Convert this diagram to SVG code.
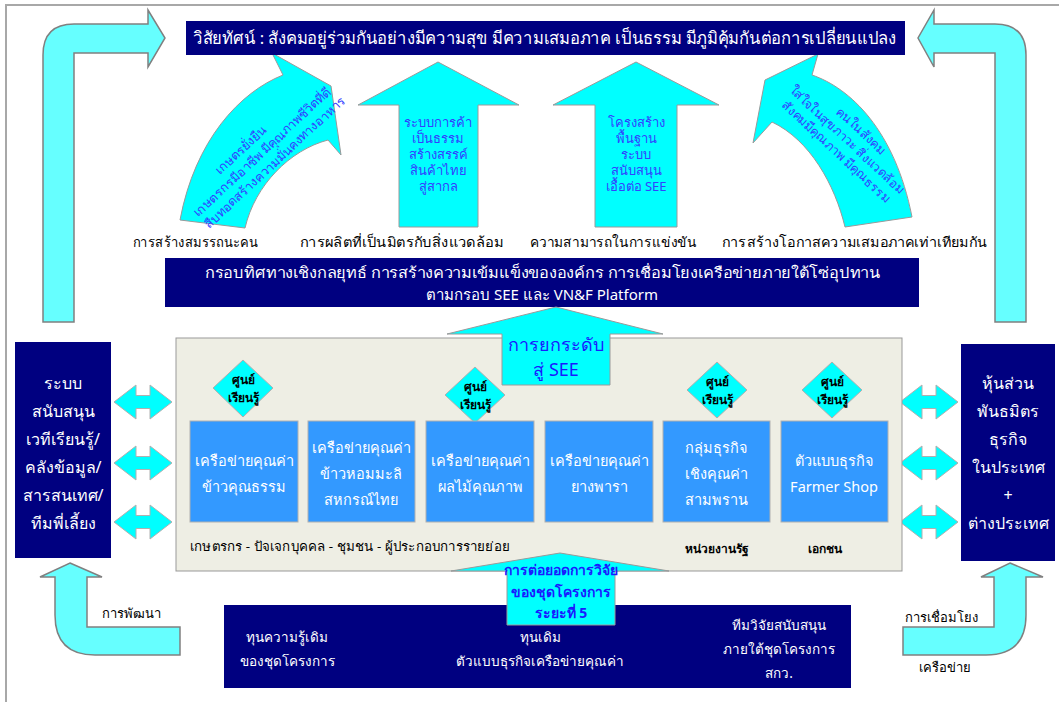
<svg xmlns="http://www.w3.org/2000/svg" xmlns:xlink="http://www.w3.org/1999/xlink" width="1059" height="702" viewBox="0 0 1059 702">
<defs>
<style>
text{font-family:"Noto Sans","DejaVu Sans",sans-serif;}
.nv{fill:#000080;}
.cy{fill:#00FFFF;stroke:#9a9a9a;stroke-width:1;}
.lc{fill:#66FFFF;stroke:#808080;stroke-width:1.5;}
.bx{fill:#3399FF;stroke:#b0b0b0;stroke-width:1;}
.dm{fill:#00FFFF;stroke:#b0b0b0;stroke-width:1;}
.w{fill:#ffffff;}
.k{fill:#000000;}
.bl{fill:#3340ff;}
.c{text-anchor:middle;}
</style>
<path id="dbl" d="M0,17 L22,0 L22,10.5 L36,10.5 L36,0 L58,17 L36,34 L36,23.5 L22,23.5 L22,34 Z" fill="#00FFFF" stroke="#b0b0b0" stroke-width="1"/>
</defs>
<rect width="1059" height="702" fill="#ffffff"/>
<path d="M6,702 L6,5 L1059,5" fill="none" stroke="#a8a8a8" stroke-width="2"/>

<g id="connectors">
<path class="lc" d="M43,322 L43,55 Q43,24 74,24 L148,24 L148,10 L165,38 L148,67 L148,53 L74,53 L74,322 Z"/>
<path class="lc" d="M1026,322 L1026,55 Q1026,24 995,24 L934,24 L934,10 L918,38 L934,67 L934,53 L995,53 L995,322 Z"/>
<path class="cy" d="M331,86 L272,53 L283,75 C240,92 195,140 180,220 L245,228 C255,185 290,150 328,140 L341,155 Z"/>
<path class="cy" d="M765,80 L818,54 L812,75 C850,88 895,130 912,217 L845,227 C835,185 810,140 772,122 L753,143 Z"/>
<path class="cy" d="M438,62 L519,105 L478,105 L478,227 L399,227 L399,105 L358,105 Z"/>
<path class="cy" d="M636,62 L719,105 L677,105 L677,227 L595,227 L595,105 L553,105 Z"/>
<use xlink:href="#dbl" x="114" y="385"/>
<use xlink:href="#dbl" x="114" y="446"/>
<use xlink:href="#dbl" x="114" y="505"/>
<use xlink:href="#dbl" x="900" y="385"/>
<use xlink:href="#dbl" x="900" y="446"/>
<use xlink:href="#dbl" x="900" y="505"/>
<path class="lc" d="M70,563 L102,577 L87,577 L87,627 L180,627 L180,655 L95,655 Q55,655 55,615 L55,577 L40,577 Z"/>
<path class="lc" d="M1010,563 L1043,577 L1026,577 L1026,615 Q1026,655 986,655 L903,655 L903,627 L994,627 L994,577 L981,577 Z"/>
</g>

<g id="vision">
<rect class="nv" x="186" y="21" width="719" height="34"/>
<text class="w" x="193" y="44" font-size="17" textLength="703" lengthAdjust="spacingAndGlyphs">วิสัยทัศน์ : สังคมอยู่ร่วมกันอย่างมีความสุข มีความเสมอภาค เป็นธรรม มีภูมิคุ้มกันต่อการเปลี่ยนแปลง</text>
</g>

<g id="arrow-text-1">
<g transform="translate(263,153) rotate(-43)" font-size="12.5">
<text class="c bl" x="-14" y="-13">เกษตรยั่งยืน</text>
<text class="c bl" x="0" y="3">เกษตรกรมีอาชีพ มีคุณภาพชีวิตที่ดี</text>
<text class="c bl" x="2" y="19">สืบทอดสร้างความมั่นคงทางอาหาร</text>
</g>
</g>
<g id="arrow-text-2" font-size="13">
<text class="c bl" x="438" y="127">ระบบการค้า</text>
<text class="c bl" x="438" y="143">เป็นธรรม</text>
<text class="c bl" x="438" y="159">สร้างสรรค์</text>
<text class="c bl" x="438" y="175">สินค้าไทย</text>
<text class="c bl" x="438" y="191">สู่สากล</text>
</g>
<g id="arrow-text-3" font-size="13">
<text class="c bl" x="636" y="127">โครงสร้าง</text>
<text class="c bl" x="636" y="143">พื้นฐาน</text>
<text class="c bl" x="636" y="159">ระบบ</text>
<text class="c bl" x="636" y="175">สนับสนุน</text>
<text class="c bl" x="636" y="191">เอื้อต่อ SEE</text>
</g>
<g id="arrow-text-4">
<g transform="translate(847,140) rotate(43)" font-size="12.5">
<text class="c bl" x="4" y="-12">คนในสังคม</text>
<text class="c bl" x="0" y="4">ใส่ใจในสุขภาวะ สิ่งแวดล้อม</text>
<text class="c bl" x="0" y="20">สังคมมีคุณภาพ มีคุณธรรม</text>
</g>
</g>

<g id="goals" font-size="14">
<text class="k" x="133" y="247" textLength="125" lengthAdjust="spacingAndGlyphs">การสร้างสมรรถนะคน</text>
<text class="k" x="300" y="247" textLength="203" lengthAdjust="spacingAndGlyphs">การผลิตที่เป็นมิตรกับสิ่งแวดล้อม</text>
<text class="k" x="530" y="247" textLength="167" lengthAdjust="spacingAndGlyphs">ความสามารถในการแข่งขัน</text>
<text class="k" x="722" y="247" textLength="265" lengthAdjust="spacingAndGlyphs">การสร้างโอกาสความเสมอภาคเท่าเทียมกัน</text>
</g>

<g id="strategy">
<rect class="nv" x="165" y="258" width="754" height="49"/>
<text class="w" x="205" y="278" font-size="15" textLength="675" lengthAdjust="spacingAndGlyphs">กรอบทิศทางเชิงกลยุทธ์ การสร้างความเข้มแข็งขององค์กร การเชื่อมโยงเครือข่ายภายใต้โซ่อุปทาน</text>
<text class="w c" x="542" y="300" font-size="15">ตามกรอบ SEE และ VN&amp;F Platform</text>
</g>

<g id="panel">
<rect x="176" y="338" width="726" height="233" fill="#EEEEE4" stroke="#999999" stroke-width="1"/>
<text class="k" x="190" y="551" font-size="13" textLength="320" lengthAdjust="spacingAndGlyphs">เกษตรกร - ปัจเจกบุคคล - ชุมชน - ผู้ประกอบการรายย่อย</text>
<text class="k" x="685" y="553" font-size="12" font-weight="bold">หน่วยงานรัฐ</text>
<text class="k" x="808" y="553" font-size="12" font-weight="bold">เอกชน</text>
</g>

<g id="raise-see">
<path class="cy" d="M556,307 L663,334 L610,334 L610,385 L502,385 L502,334 L447,334 Z"/>
<text class="c" x="556" y="351" font-size="18" fill="#1a1aff">การยกระดับ</text>
<text class="c" x="556" y="376" font-size="18" fill="#1a1aff">สู่ SEE</text>
</g>

<g id="lc1"><path class="dm" d="M243,360 L273,388 L243,417 L213,388 Z"/><text class="k c" x="243" y="384" font-size="12" font-weight="bold">ศูนย์</text><text class="k c" x="243" y="402" font-size="12" font-weight="bold">เรียนรู้</text></g>
<g id="lc2"><path class="dm" d="M475,367 L505,395 L475,423 L445,395 Z"/><text class="k c" x="475" y="391" font-size="12" font-weight="bold">ศูนย์</text><text class="k c" x="475" y="409" font-size="12" font-weight="bold">เรียนรู้</text></g>
<g id="lc3"><path class="dm" d="M717,362 L747,390 L717,418 L687,390 Z"/><text class="k c" x="717" y="386" font-size="12" font-weight="bold">ศูนย์</text><text class="k c" x="717" y="404" font-size="12" font-weight="bold">เรียนรู้</text></g>
<g id="lc4"><path class="dm" d="M832,362 L862,390 L832,418 L802,390 Z"/><text class="k c" x="832" y="386" font-size="12" font-weight="bold">ศูนย์</text><text class="k c" x="832" y="404" font-size="12" font-weight="bold">เรียนรู้</text></g>

<g id="b1"><rect class="bx" x="190" y="421" width="108" height="101"/><text class="w c" x="244" y="466" font-size="14.5">เครือข่ายคุณค่า</text><text class="w c" x="244" y="492" font-size="14.5">ข้าวคุณธรรม</text></g>
<g id="b2"><rect class="bx" x="308" y="421" width="107" height="101"/><text class="w c" x="361" y="453" font-size="14.5">เครือข่ายคุณค่า</text><text class="w c" x="361" y="479" font-size="14.5">ข้าวหอมมะลิ</text><text class="w c" x="361" y="505" font-size="14.5">สหกรณ์ไทย</text></g>
<g id="b3"><rect class="bx" x="426" y="421" width="108" height="101"/><text class="w c" x="480" y="466" font-size="14.5">เครือข่ายคุณค่า</text><text class="w c" x="480" y="492" font-size="14.5">ผลไม้คุณภาพ</text></g>
<g id="b4"><rect class="bx" x="545" y="421" width="108" height="101"/><text class="w c" x="599" y="466" font-size="14.5">เครือข่ายคุณค่า</text><text class="w c" x="599" y="492" font-size="14.5">ยางพารา</text></g>
<g id="b5"><rect class="bx" x="663" y="421" width="107" height="101"/><text class="w c" x="716" y="453" font-size="14.5">กลุ่มธุรกิจ</text><text class="w c" x="716" y="479" font-size="14.5">เชิงคุณค่า</text><text class="w c" x="716" y="505" font-size="14.5">สามพราน</text></g>
<g id="b6"><rect class="bx" x="781" y="421" width="107" height="101"/><text class="w c" x="834" y="466" font-size="14.5">ตัวแบบธุรกิจ</text><text class="w c" x="834" y="492" font-size="14.5">Farmer Shop</text></g>

<g id="support" font-size="16">
<rect class="nv" x="15" y="342" width="96" height="216"/>
<text class="w c" x="63" y="389">ระบบ</text>
<text class="w c" x="63" y="417">สนับสนุน</text>
<text class="w c" x="63" y="445">เวทีเรียนรู้/</text>
<text class="w c" x="63" y="473">คลังข้อมูล/</text>
<text class="w c" x="63" y="501">สารสนเทศ/</text>
<text class="w c" x="63" y="529">ทีมพี่เลี้ยง</text>
</g>

<g id="partners" font-size="16">
<rect class="nv" x="961" y="344" width="94" height="217"/>
<text class="w c" x="1008" y="389">หุ้นส่วน</text>
<text class="w c" x="1008" y="417">พันธมิตร</text>
<text class="w c" x="1008" y="445">ธุรกิจ</text>
<text class="w c" x="1008" y="473">ในประเทศ</text>
<text class="w c" x="1008" y="501">+</text>
<text class="w c" x="1008" y="529">ต่างประเทศ</text>
</g>

<g id="labels" font-size="13">
<text class="k" x="102" y="618">การพัฒนา</text>
<text class="k" x="905" y="622">การเชื่อมโยง</text>
<text class="k" x="919" y="672">เครือข่าย</text>
</g>

<g id="base" font-size="13.5">
<rect class="nv" x="224" y="605" width="627" height="83"/>
<text class="w c" x="287" y="642">ทุนความรู้เดิม</text>
<text class="w c" x="287" y="666">ของชุดโครงการ</text>
<text class="w c" x="540" y="642">ทุนเดิม</text>
<text class="w c" x="540" y="666">ตัวแบบธุรกิจเครือข่ายคุณค่า</text>
<text class="w c" x="779" y="630">ทีมวิจัยสนับสนุน</text>
<text class="w c" x="779" y="654">ภายใต้ชุดโครงการ</text>
<text class="w c" x="779" y="678">สกว.</text>
</g>

<g id="continue">
<path class="cy" d="M560,553 L669,571 L615,571 L615,625 L507,625 L507,571 L451,571 Z"/>
<text class="c" x="561" y="575" font-size="14" font-weight="bold" fill="#1a1aff">การต่อยอดการวิจัย</text>
<text class="c" x="561" y="597" font-size="14" font-weight="bold" fill="#1a1aff">ของชุดโครงการ</text>
<text class="c" x="561" y="618" font-size="14" font-weight="bold" fill="#1a1aff">ระยะที่ 5</text>
</g>
</svg>
